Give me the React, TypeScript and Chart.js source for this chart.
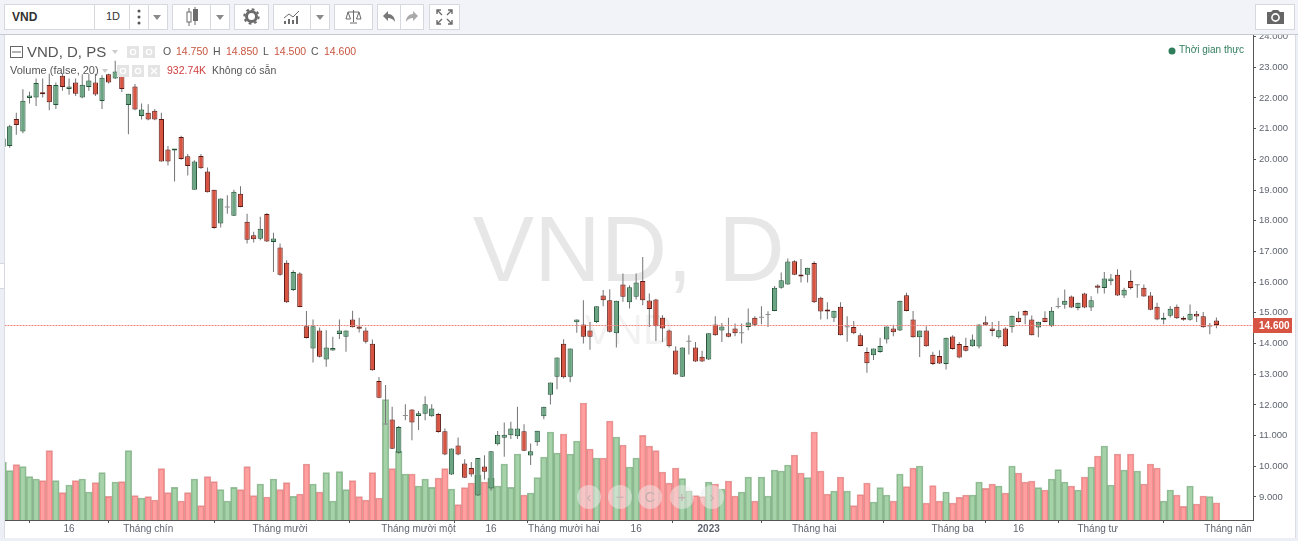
import React, { useEffect, useRef } from "react";
import { Chart, registerables } from "chart.js";

Chart.register(...registerables);

const opens = [20.41,20.43,21.31,20.91,22.00,22.01,22.16,22.42,21.77,22.72,22.29,22.50,22.01,22.36,22.50,21.90,22.77,22.63,22.86,21.77,22.37,21.41,21.52,21.58,21.31,20.32,20.29,20.73,20.10,19.01,20.11,19.60,19.01,17.91,18.43,18.16,18.88,17.97,17.53,17.41,18.22,17.31,17.13,16.63,15.74,16.28,14.56,13.84,14.42,13.48,13.77,14.31,14.22,14.78,14.55,14.42,13.99,12.78,11.36,11.52,10.44,11.64,11.85,11.64,11.71,11.63,11.70,11.14,9.73,10.68,10.09,9.94,9.05,9.99,9.28,10.72,10.93,11.01,10.98,11.14,10.35,10.78,11.63,12.33,12.92,13.99,12.92,14.69,14.62,14.42,14.70,15.56,15.41,14.33,15.92,15.34,15.52,16.04,15.40,15.43,14.84,14.42,13.77,12.92,14.06,13.87,13.57,13.48,14.62,14.42,14.33,14.49,14.33,14.54,14.84,14.84,14.93,15.06,15.82,15.92,16.68,16.25,16.24,16.62,15.49,15.06,14.84,15.20,14.53,14.54,14.27,13.72,13.62,13.72,14.13,14.49,14.42,15.57,14.78,14.20,14.42,13.63,13.59,13.33,14.23,13.98,13.92,13.91,13.90,14.69,14.49,14.20,14.49,14.53,14.84,15.06,14.78,14.52,14.84,14.56,15.19,15.26,15.53,15.16,15.63,15.17,15.89,15.81,16.03,16.24,15.56,16.04,15.90,15.82,15.56,15.20,14.77,14.90,15.20,14.82,14.77,14.97,14.89,14.55,14.75];
const highs = [20.75,21.13,21.52,22.28,22.20,22.63,22.63,22.79,22.50,22.79,22.63,22.63,22.77,22.79,22.79,22.74,22.79,23.21,22.92,22.14,22.45,21.82,21.79,21.64,21.52,20.43,20.32,20.77,20.17,19.97,20.17,19.73,19.01,18.72,18.83,19.01,19.12,18.23,17.64,18.13,18.25,17.61,17.26,16.71,16.39,16.32,15.06,14.78,14.52,14.43,14.22,14.78,14.42,15.07,14.84,14.52,14.13,12.91,12.65,11.94,11.31,12.02,11.86,11.80,12.28,12.02,11.74,11.23,10.58,10.94,10.23,10.14,10.27,10.36,10.49,11.15,11.43,11.45,11.94,11.37,10.74,11.16,11.94,12.73,13.54,14.14,13.84,14.78,15.41,14.70,15.21,15.74,15.77,15.39,16.28,15.90,16.28,16.82,15.63,15.46,14.92,14.46,13.91,13.87,14.27,14.05,13.76,14.33,14.89,14.67,14.84,14.65,14.65,15.14,14.89,15.21,15.05,15.87,16.31,16.77,16.71,16.75,16.47,16.68,15.52,15.34,15.07,15.34,14.89,14.73,14.33,13.87,13.84,14.19,14.55,14.61,15.39,15.65,15.06,14.42,14.56,13.73,13.78,14.19,14.27,14.05,14.19,14.29,14.63,14.89,14.70,14.73,14.53,14.90,15.04,15.08,14.91,14.71,15.05,15.19,15.49,15.76,15.56,15.33,15.65,15.54,15.93,16.33,16.26,16.42,15.82,16.39,15.92,15.92,15.68,15.33,15.00,15.21,15.27,14.89,15.27,15.06,15.03,14.67,14.85];
const lows = [20.38,20.38,20.80,20.85,21.82,21.74,22.01,21.60,21.64,22.23,22.10,22.06,21.99,22.23,22.06,21.64,22.47,22.62,22.19,20.82,21.60,21.30,21.27,21.27,19.92,19.80,19.28,19.99,19.47,19.01,19.69,18.92,17.74,17.78,18.23,18.15,18.44,17.26,17.29,17.36,17.31,16.33,16.21,15.32,15.71,15.18,14.16,13.38,13.54,13.24,13.76,14.15,13.73,14.52,14.36,14.00,13.11,12.22,11.35,10.56,10.41,11.50,10.85,11.18,11.50,11.61,11.09,10.36,9.72,10.36,9.62,9.66,9.03,9.57,9.20,10.68,10.31,10.89,10.89,10.50,10.04,10.67,11.53,12.01,12.51,12.86,12.74,14.35,14.00,13.80,14.67,15.21,14.36,13.87,15.36,15.14,15.43,15.25,14.54,14.08,14.05,13.87,12.97,12.91,13.64,13.40,13.40,13.46,14.25,14.05,14.20,14.24,14.00,14.43,14.56,14.63,14.54,15.05,15.78,15.91,16.22,15.99,15.99,15.32,14.78,14.79,14.70,14.26,14.06,14.30,13.91,13.05,13.46,13.70,14.00,14.24,14.41,15.05,14.19,13.56,13.89,13.30,13.33,13.15,13.80,13.52,13.74,13.89,13.84,14.59,14.24,14.16,13.89,14.35,14.68,14.63,14.26,14.20,14.69,14.54,15.14,15.13,15.16,15.08,15.15,15.06,15.63,15.63,15.90,15.55,15.48,15.76,15.49,15.52,15.08,14.76,14.63,14.85,14.80,14.74,14.74,14.70,14.51,14.30,14.50];
const closes = [20.68,21.08,21.12,21.91,22.08,22.49,22.12,21.86,22.42,22.36,22.37,22.14,22.43,22.57,22.11,22.66,22.50,22.86,22.29,22.14,21.62,21.62,21.30,21.30,19.93,19.93,20.32,20.01,19.78,19.93,19.71,18.93,17.76,18.72,18.43,18.94,18.45,17.38,17.40,17.74,17.32,17.42,16.24,15.34,16.33,15.19,14.18,14.56,13.57,13.87,13.85,14.42,14.42,14.53,14.48,14.06,13.13,12.23,11.36,10.57,11.28,11.64,11.43,11.73,12.02,11.88,11.12,10.38,10.58,10.38,9.63,9.73,10.27,9.82,10.49,11.03,11.03,11.23,11.23,10.51,10.49,11.16,11.94,12.73,13.54,12.90,13.84,14.78,14.22,14.22,15.21,15.41,14.38,15.39,15.52,15.83,15.99,15.41,15.12,14.56,14.49,13.91,12.99,13.87,14.06,13.41,13.41,14.33,14.27,14.55,14.22,14.33,14.33,14.68,14.61,14.84,14.93,15.82,16.06,16.67,16.24,16.18,16.47,15.34,15.04,15.04,15.07,14.27,14.53,14.33,13.92,13.36,13.84,13.92,14.55,14.37,15.39,15.06,14.20,14.42,13.91,13.33,13.35,14.19,13.82,13.54,13.76,14.13,14.62,14.61,14.41,14.43,13.91,14.90,14.70,14.91,14.27,14.71,14.70,15.07,15.19,15.39,15.17,15.33,15.17,15.41,15.82,16.12,16.12,15.56,15.75,15.81,15.90,15.53,15.10,14.78,14.84,15.13,14.82,14.77,14.97,14.88,14.53,14.55,14.60];
const volumesK = [3114,2664,2988,2880,2340,2214,2124,3744,2124,1476,1890,2124,2214,1512,2016,2556,1278,2052,2070,3744,1314,1188,1260,1080,2772,1476,1764,1026,1476,2214,774,2340,2070,1638,1026,1764,1638,2880,1314,1944,1242,2214,1638,2016,1278,1404,3024,1944,1512,2556,1026,2610,1638,2124,1260,1080,2556,1188,6498,2772,3708,2484,2484,1836,2214,1764,2268,2772,1674,828,1746,1998,2430,2052,2268,1836,3024,1764,3564,1350,1458,2286,3402,4752,3618,4644,3564,4266,6318,3834,3348,3348,5346,4482,4050,2862,3348,4572,3996,3744,2592,1998,2808,2232,1566,1314,1260,2052,1944,1674,2106,1296,1512,2322,1026,2322,1296,2700,2646,2970,3510,2538,2286,4752,2646,1404,1566,2322,1566,774,1368,1998,972,1746,1350,1026,2484,1800,2808,2916,918,1854,1026,1512,918,1224,1350,1350,2052,1710,1944,1836,1458,2916,2538,2052,2106,1746,1620,2214,2718,2052,1836,1620,2322,2862,3456,3996,1890,3564,2700,3564,2646,1944,3024,2808,1026,1620,1350,738,1836,864,1296,1260,932.74];

const xTickIndex = [10, 22, 42, 63, 74, 85, 96, 107, 123, 144, 154, 166, 186];
const xTickLabels = ["16", "Tháng chín", "Tháng mười", "Tháng mười một", "16", "Tháng mười hai", "16", "2023", "Tháng hai", "Tháng ba", "16", "Tháng tư", "Tháng năm"];
const yTickValues = [9, 10, 11, 12, 13, 14, 15, 16, 17, 18, 19, 20, 21, 22, 23, 24];
const lastPrice = 14.6;
const watermarkMain = "VND, D";
const watermarkSub = "VND";

const FONT = '"Liberation Sans", Arial, sans-serif';
const UP = "#6ba583";
const DOWN = "#d75442";
const UP_BORDER = "#225437";
const DOWN_BORDER = "#5b1a13";
const WICK = "#737375";

const isUp = (i: number) => closes[i] >= opens[i];
const isDoji = (i: number) => closes[i] === opens[i];
const idx = opens.map((_, i) => i);

const overlayPlugin = {
  id: "tvOverlay",
  beforeDatasetsDraw(chart: any) {
    const { ctx, chartArea } = chart;
    ctx.save();
    ctx.textAlign = "center";
    ctx.textBaseline = "alphabetic";
    ctx.fillStyle = "rgba(0,0,0,0.095)";
    ctx.font = `92px ${FONT}`;
    ctx.fillText(watermarkMain, (chartArea.left + chartArea.right) / 2, 281);
    ctx.fillStyle = "rgba(0,0,0,0.05)";
    ctx.font = `42px ${FONT}`;
    ctx.fillText(watermarkSub, (chartArea.left + chartArea.right) / 2, 344);
    ctx.restore();
  },
  afterDatasetsDraw(chart: any) {
    const { ctx, chartArea, scales } = chart;
    const y = Math.round(scales.y.getPixelForValue(lastPrice)) + 0.5;
    ctx.save();
    ctx.strokeStyle = "#f0827a";
    ctx.lineWidth = 1;
    ctx.setLineDash([2, 1]);
    ctx.beginPath();
    ctx.moveTo(chartArea.left, y);
    ctx.lineTo(chartArea.right, y);
    ctx.stroke();
    ctx.setLineDash([]);
    ctx.fillStyle = DOWN;
    ctx.fillRect(chartArea.right, y - 7.5, 39, 15);
    ctx.fillStyle = "#fff";
    ctx.font = `bold 10px ${FONT}`;
    ctx.textAlign = "left";
    ctx.textBaseline = "middle";
    ctx.fillText(lastPrice.toFixed(3), chartArea.right + 6, y + 0.5);
    ctx.restore();
  },
};

const BORDER = "#d5d8dd";
const ICON = "#6b6b6b";

function Box({ x, w, children }: any) {
  return (
    <div style={{ position: "absolute", left: x, top: 4, width: w, height: 26, boxSizing: "border-box", background: "#fff", border: `1px solid ${BORDER}` }}>
      {children}
    </div>
  );
}

function Sep({ x }: any) {
  return <div style={{ position: "absolute", left: x, top: 4, width: 1, height: 26, background: BORDER }} />;
}

function Arrow({ x, y = 15, c = "#8a8a8a", s = 4 }: any) {
  return (
    <div style={{ position: "absolute", left: x, top: y, width: 0, height: 0, borderLeft: `${s}px solid transparent`, borderRight: `${s}px solid transparent`, borderTop: `${s + 1}px solid ${c}` }} />
  );
}

function Svg({ x, y, w, h, children }: any) {
  return (
    <svg style={{ position: "absolute", left: x, top: y }} width={w} height={h} viewBox={`0 0 ${w} ${h}`}>
      {children}
    </svg>
  );
}

function Txt({ x, y, size, color, bold, children }: any) {
  return (
    <span style={{ position: "absolute", left: x, top: y, fontFamily: FONT, fontSize: size, lineHeight: `${Math.ceil(size) + 2}px`, color, fontWeight: bold ? 700 : 400, whiteSpace: "nowrap" }}>
      {children}
    </span>
  );
}

function Toolbar() {
  return (
    <div style={{ position: "absolute", left: 0, top: 0, width: 1298, height: 35, boxSizing: "border-box", background: "#f1f3f8", borderBottom: "1px solid #c6cbd2" }}>
      <Box x={4} w={164} />
      <Sep x={94} />
      <Sep x={129} />
      <Sep x={148} />
      <Txt x={12} y={10} size={12} color="#333" bold>VND</Txt>
      <Txt x={106} y={10} size={11} color="#333">1D</Txt>
      <Svg x={136} y={9} w={6} h={16}>
        <circle cx={3} cy={2} r={1.5} fill="#555" />
        <circle cx={3} cy={8} r={1.5} fill="#555" />
        <circle cx={3} cy={14} r={1.5} fill="#555" />
      </Svg>
      <Arrow x={153} />

      <Box x={172} w={58} />
      <Sep x={210} />
      <Svg x={185} y={6} w={14} h={22}>
        <line x1={4} y1={2} x2={4} y2={20} stroke={ICON} />
        <rect x={2} y={6} width={4} height={10} fill="#fff" stroke={ICON} />
        <line x1={10} y1={1} x2={10} y2={19} stroke={ICON} />
        <rect x={8} y={3} width={5} height={12} fill={ICON} />
      </Svg>
      <Arrow x={216} />

      <Box x={234} w={35} />
      <Svg x={243} y={8} w={17} h={17}>
        <circle cx={8.5} cy={8.5} r={5} fill="none" stroke={ICON} strokeWidth={3} />
        <circle cx={8.5} cy={8.5} r={7.2} fill="none" stroke={ICON} strokeWidth={2} strokeDasharray="2.8 2.85" />
      </Svg>

      <Box x={273} w={57} />
      <Sep x={310} />
      <Svg x={283} y={9} w={18} h={16}>
        <polyline points="1,9 6,5 10,8 16,2" fill="none" stroke={ICON} strokeWidth={1} />
        <rect x={1} y={12} width={2} height={3} fill={ICON} />
        <rect x={5} y={10} width={2} height={5} fill={ICON} />
        <rect x={9} y={11} width={2} height={4} fill={ICON} />
        <rect x={13} y={7} width={2} height={8} fill={ICON} />
      </Svg>
      <Arrow x={316} />

      <Box x={334} w={39} />
      <Svg x={345} y={9} w={17} h={16}>
        <line x1={8.5} y1={1} x2={8.5} y2={13} stroke={ICON} />
        <line x1={3} y1={3} x2={14} y2={3} stroke={ICON} />
        <path d="M1 10 L3 3 L5.5 10 Z M11.5 10 L14 3 L16 10 Z" fill="none" stroke={ICON} />
        <line x1={5} y1={14} x2={12} y2={14} stroke={ICON} />
      </Svg>

      <Box x={377} w={47} />
      <Sep x={400} />
      <Svg x={382} y={10} w={14} h={13}>
        <path d="M6 1 L1 6 L6 11 L6 8 C9 8 11 9 13 12 C13 7 10 4 6 4 Z" fill="#777" />
      </Svg>
      <Svg x={405} y={10} w={14} h={13}>
        <path d="M8 1 L13 6 L8 11 L8 8 C5 8 3 9 1 12 C1 7 4 4 8 4 Z" fill="#aaa" />
      </Svg>

      <Box x={429} w={31} />
      <Svg x={436} y={9} w={17} h={16}>
        <path d="M1 5 V1 H5 M12 1 H16 V5 M16 11 V15 H12 M5 15 H1 V11 M1 1 L6 6 M16 1 L11 6 M16 15 L11 10 M1 15 L6 10" fill="none" stroke={ICON} strokeWidth={1.4} />
      </Svg>

      <Box x={1255} w={40} />
      <Svg x={1266} y={9} w={19} h={16}>
        <path d="M1 3 H5 L7 1 H12 L14 3 H18 V15 H1 Z" fill="#666" />
        <circle cx={9.5} cy={8.5} r={3.6} fill="none" stroke="#fff" strokeWidth={1.6} />
      </Svg>
    </div>
  );
}

function GreyIcon({ x, y, kind }: any) {
  return (
    <Svg x={x} y={y} w={12} h={12}>
      <rect width={12} height={12} fill="#e4e4e4" />
      {kind === "x" ? (
        <path d="M3 3 L9 9 M9 3 L3 9" stroke="#fff" strokeWidth={1.4} />
      ) : (
        <circle cx={6} cy={6} r={2.6} fill="none" stroke="#fff" strokeWidth={1.4} />
      )}
    </Svg>
  );
}

function LegendBlock() {
  const red = "#c8553f";
  const grey = "#555";
  return (
    <>
      <Svg x={10} y={46} w={13} h={12}>
        <rect x={0.5} y={0.5} width={12} height={11} fill="#fff" stroke="#666" />
        <line x1={2} y1={6} x2={11} y2={6} stroke="#666" />
      </Svg>
      <Txt x={27} y={43} size={15} color={grey}>VND, D, PS</Txt>
      <Arrow x={112} y={50} c="#ccc" s={3} />
      <GreyIcon x={127} y={46} />
      <GreyIcon x={143} y={46} />
      <Txt x={163} y={45} size={10.5} color={grey}>O</Txt>
      <Txt x={176} y={45} size={10.5} color={red}>14.750</Txt>
      <Txt x={213} y={45} size={10.5} color={grey}>H</Txt>
      <Txt x={226} y={45} size={10.5} color={red}>14.850</Txt>
      <Txt x={263} y={45} size={10.5} color={grey}>L</Txt>
      <Txt x={274} y={45} size={10.5} color={red}>14.500</Txt>
      <Txt x={311} y={45} size={10.5} color={grey}>C</Txt>
      <Txt x={324} y={45} size={10.5} color={red}>14.600</Txt>

      <Txt x={10} y={64} size={11} color={grey}>Volume (false, 20)</Txt>
      <Arrow x={102} y={69} c="#ccc" s={3} />
      <GreyIcon x={117} y={65} />
      <GreyIcon x={132} y={65} />
      <GreyIcon x={148} y={65} kind="x" />
      <Txt x={167} y={64} size={10.5} color="#cf3f3f">932.74K</Txt>
      <Txt x={212} y={64} size={10.5} color={grey}>Không có sẵn</Txt>

      <Svg x={1168} y={47} w={8} h={8}>
        <circle cx={4} cy={4} r={3.5} fill="#2f7d5b" />
      </Svg>
      <Txt x={1179} y={44} size={10} color="#2f7d5b">Thời gian thực</Txt>
    </>
  );
}

const navGlyphs = ["‹", "−", "C", "+", "›"];
const navX = [589, 620, 650, 682, 712];

function NavButtons() {
  return (
    <>
      {navGlyphs.map((g, i) => (
        <div key={i} style={{ position: "absolute", left: navX[i] - 12, top: 485, width: 24, height: 24, borderRadius: 12, background: "rgba(238,238,238,0.5)", color: "#c4b0b0", fontFamily: FONT, fontSize: 15, lineHeight: "23px", textAlign: "center" }}>
          {g}
        </div>
      ))}
    </>
  );
}

function Edges() {
  const bg = "#eceff5";
  return (
    <>
      <div style={{ position: "absolute", left: 0, top: 35, width: 4, height: 506, background: bg, borderRight: "1px solid #d9dce2", boxSizing: "content-box" }} />
      <div style={{ position: "absolute", left: 0, top: 263, width: 4, height: 24, background: "#fff", border: "1px solid #d5d8dd", borderLeft: "none" }} />
      <div style={{ position: "absolute", left: 1251, top: 521, width: 44, height: 18, background: "#fff" }} />
      <div style={{ position: "absolute", left: 1295, top: 35, width: 3, height: 506, background: bg, borderLeft: "1px solid #d9dce2" }} />
      <div style={{ position: "absolute", left: 0, top: 538, width: 1298, height: 3, background: bg }} />
      <div style={{ position: "absolute", left: 28, top: 30, width: 1, height: 5, background: "#c6cbd2" }} />
      <Arrow x={15} y={31} c="#d0d0d0" s={2} />
    </>
  );
}

export default function App() {
  const ref = useRef<HTMLCanvasElement | null>(null);

  useEffect(() => {
    if (!ref.current) return;
    const wickSet = (up: boolean) => idx.filter((i) => isUp(i) === up).map((i) => ({ x: i, y: [lows[i], highs[i]] }));
    const chart = new Chart(ref.current, {
      type: "bar",
      data: {
        datasets: [
          {
            label: "Volume up",
            yAxisID: "v",
            order: 5,
            data: idx.filter(isUp).map((i) => ({ x: i, y: volumesK[i] })),
            backgroundColor: "rgba(107,180,112,0.6)",
            borderColor: "rgba(90,145,95,0.6)",
            borderWidth: 1,
            grouped: false,
            barPercentage: 1,
            categoryPercentage: 1,
            borderSkipped: "bottom",
          },
          {
            label: "Volume down",
            yAxisID: "v",
            order: 5,
            data: idx.filter((i) => !isUp(i)).map((i) => ({ x: i, y: volumesK[i] })),
            backgroundColor: "rgba(255,100,100,0.62)",
            borderColor: "rgba(205,100,100,0.6)",
            borderWidth: 1,
            grouped: false,
            barPercentage: 1,
            categoryPercentage: 1,
            borderSkipped: "bottom",
          },
          {
            label: "Wick up",
            yAxisID: "y",
            order: 3,
            data: wickSet(true),
            backgroundColor: WICK,
            borderWidth: 0,
            grouped: false,
            barPercentage: 1,
            maxBarThickness: 1,
          },
          {
            label: "Wick down",
            yAxisID: "y",
            order: 3,
            data: wickSet(false),
            backgroundColor: WICK,
            borderWidth: 0,
            grouped: false,
            barPercentage: 1,
            maxBarThickness: 1,
          },
          {
            label: "Body up",
            yAxisID: "y",
            order: 2,
            data: idx.filter((i) => isUp(i) && !isDoji(i)).map((i) => ({ x: i, y: [opens[i], closes[i]] })),
            backgroundColor: UP,
            borderColor: UP_BORDER,
            borderWidth: 1,
            borderSkipped: false,
            grouped: false,
            barPercentage: 1,
            maxBarThickness: 5.4,
            minBarLength: 2,
          },
          {
            label: "Body down",
            yAxisID: "y",
            order: 2,
            data: idx.filter((i) => !isUp(i)).map((i) => ({ x: i, y: [opens[i], closes[i]] })),
            backgroundColor: DOWN,
            borderColor: DOWN_BORDER,
            borderWidth: 1,
            borderSkipped: false,
            grouped: false,
            barPercentage: 1,
            maxBarThickness: 5.4,
            minBarLength: 2,
          },
          {
            label: "Doji",
            yAxisID: "y",
            order: 2,
            data: idx.filter(isDoji).map((i) => ({ x: i, y: [opens[i], closes[i]] })),
            backgroundColor: "#8f8f91",
            borderWidth: 0,
            grouped: false,
            barPercentage: 1,
            maxBarThickness: 5,
            minBarLength: 1,
          },
        ],
      } as any,
      options: {
        responsive: false,
        animation: false,
        events: [],
        layout: { padding: { left: 4.5, right: 7, top: 35, bottom: 0 } },
        plugins: { legend: { display: false }, tooltip: { enabled: false } },
        scales: {
          x: {
            type: "linear",
            min: 0.21,
            max: 189.55,
            offset: false,
            afterBuildTicks: (s: any) => {
              s.ticks = xTickIndex.map((value) => ({ value }));
            },
            afterFit: (s: any) => {
              s.height = 21;
            },
            grid: { drawOnChartArea: false, drawTicks: true, tickLength: 3, color: "#555" },
            border: { display: true, color: "#555" },
            ticks: {
              autoSkip: false,
              maxRotation: 0,
              minRotation: 0,
              padding: 0,
              color: "#5f6570",
              font: (ctx: any) => {
                const label = xTickLabels[xTickIndex.indexOf(ctx.tick?.value)];
                return { family: FONT, size: 10, weight: label === "2023" ? "bold" : "normal" };
              },
              callback: (v: any) => xTickLabels[xTickIndex.indexOf(Number(v))] ?? "",
            },
          },
          y: {
            type: "linear",
            position: "right",
            min: 8.25,
            max: 24.05,
            afterBuildTicks: (s: any) => {
              s.ticks = yTickValues.map((value) => ({ value }));
            },
            afterFit: (s: any) => {
              s.width = 38;
            },
            grid: { drawOnChartArea: false, drawTicks: true, tickLength: 3, color: "#555" },
            border: { display: true, color: "#555" },
            ticks: {
              padding: 3,
              color: "#5f6570",
              font: { family: FONT, size: 9.5 },
              callback: (v: any) => Number(v).toFixed(3),
            },
          },
          v: {
            type: "linear",
            display: false,
            position: "left",
            min: 0,
            max: 26190,
          },
        },
      } as any,
      plugins: [overlayPlugin as any],
    });
    return () => chart.destroy();
  }, []);

  return (
    <div style={{ position: "absolute", left: 0, top: 0, width: 1298, height: 541, overflow: "hidden", background: "#fff" }}>
      <canvas ref={ref} width={1298} height={541} style={{ position: "absolute", left: 0, top: 0, display: "block" }} />
      <Edges />
      <NavButtons />
      <LegendBlock />
      <Toolbar />
    </div>
  );
}
